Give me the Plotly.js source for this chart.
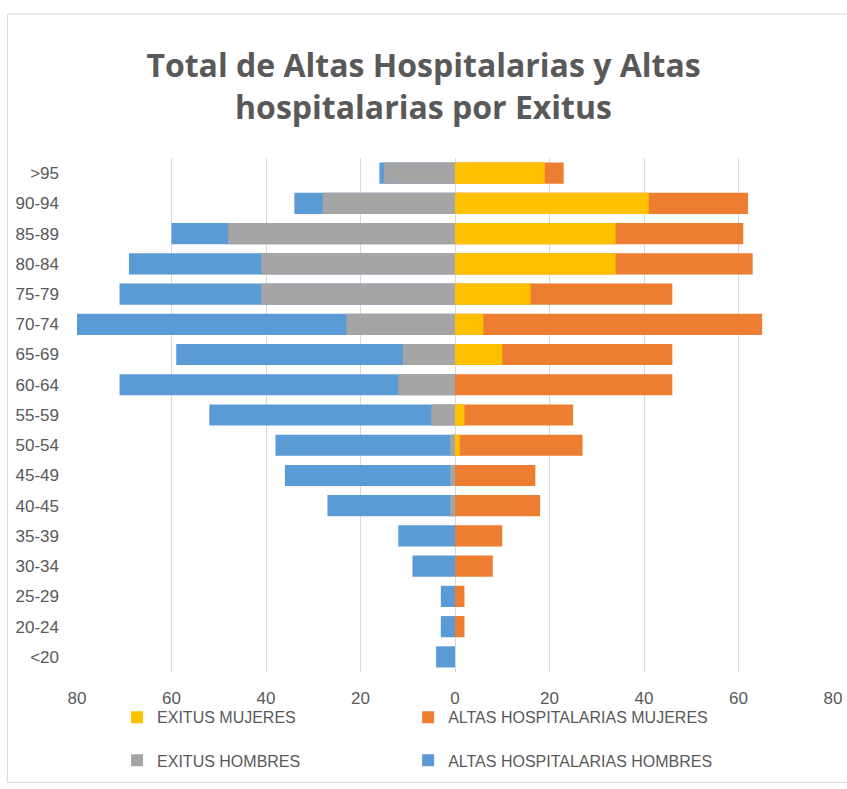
<!DOCTYPE html>
<html>
<head>
<meta charset="utf-8">
<script src="https://cdn.plot.ly/plotly-3.0.1.min.js"></script>
<style>html,body{margin:0;padding:0;background:#fff;}#chart{width:847px;height:789px;}</style>
</head>
<body>
<div id="chart"></div>
<script>
// Age groups, top to bottom
const ageGroups = [">95","90-94","85-89","80-84","75-79","70-74","65-69","60-64","55-59","50-54","45-49","40-45","35-39","30-34","25-29","20-24","<20"];
// Men (drawn to the left)
const altasHombres  = [16, 34, 60, 69, 71, 80, 59, 71, 52, 38, 36, 27, 12, 9, 3, 3, 4];
const exitusHombres = [15, 28, 48, 41, 41, 23, 11, 12, 5, 1, 1, 1, 0, 0, 0, 0, 0];
// Women (drawn to the right)
const altasMujeres  = [23, 62, 61, 63, 46, 65, 46, 46, 25, 27, 17, 18, 10, 8, 2, 2, 0];
const exitusMujeres = [19, 41, 34, 34, 16, 6, 10, 0, 2, 1, 0, 0, 0, 0, 0, 0, 0];
// Axis ticks
const xTickVals = [-80, -60, -40, -20, 0, 20, 40, 60, 80];
const xTickText = ["80", "60", "40", "20", "0", "20", "40", "60", "80"];

const neg = a => a.map(v => -v);
const narrow = "Liberation Sans Narrow, Arial Narrow, Liberation Sans, sans-serif";
const tickFont = {family: narrow, size: 17, color: "#595959"};
const legFont = {family: narrow, size: 16, color: "#595959"};

const traces = [
  {type: "bar", orientation: "h", name: "ALTAS HOSPITALARIAS HOMBRES", y: ageGroups, x: neg(altasHombres),
   marker: {color: "#5B9BD5"}, legend: "legend4"},
  {type: "bar", orientation: "h", name: "ALTAS HOSPITALARIAS MUJERES", y: ageGroups, x: altasMujeres,
   marker: {color: "#ED7D31"}, legend: "legend2"},
  {type: "bar", orientation: "h", name: "EXITUS HOMBRES", y: ageGroups, x: neg(exitusHombres),
   marker: {color: "#A5A5A5"}, legend: "legend3"},
  {type: "bar", orientation: "h", name: "EXITUS MUJERES", y: ageGroups, x: exitusMujeres,
   marker: {color: "#FFC000"}, legend: "legend"}
];

const legendCommon = {orientation: "h", font: legFont, itemwidth: 30, bgcolor: "rgba(0,0,0,0)",
  xanchor: "left", yanchor: "middle"};

const layout = {
  width: 847, height: 789,
  margin: {l: 77, r: 14, t: 158, b: 115},
  paper_bgcolor: "#fff", plot_bgcolor: "#fff",
  barmode: "overlay", bargap: 0.3,
  title: {text: "Total de Altas Hospitalarias y Altas<br>hospitalarias por Exitus",
          font: {family: "Open Sans, sans-serif", size: 32, color: "#595959", weight: "bold"},
          x: 0.5, xanchor: "center", y: 0.902, yanchor: "middle"},
  xaxis: {range: [-80, 80], tickvals: xTickVals, ticktext: xTickText, showgrid: true, gridcolor: "#D9D9D9",
          zeroline: false, showline: false, tickfont: tickFont, ticks: "", ticklabelstandoff: 14, fixedrange: true},
  yaxis: {type: "category", autorange: "reversed", showgrid: false, zeroline: false, showline: false,
          tickfont: tickFont, ticks: "", ticklabelstandoff: 17},
  showlegend: true,
  legend:  Object.assign({}, legendCommon, {x: 0.053, y: -0.088}),
  legend2: Object.assign({}, legendCommon, {x: 0.438, y: -0.088}),
  legend3: Object.assign({}, legendCommon, {x: 0.053, y: -0.172}),
  legend4: Object.assign({}, legendCommon, {x: 0.438, y: -0.172}),
  shapes: [{type: "rect", xref: "paper", yref: "paper", x0: -0.092, x1: 1.05, y0: -0.215, y1: 1.28,
            line: {color: "#D9D9D9", width: 1}, fillcolor: "rgba(0,0,0,0)", layer: "below"}]
};

Plotly.newPlot("chart", traces, layout, {displayModeBar: false, staticPlot: true});
</script>
</body>
</html>
